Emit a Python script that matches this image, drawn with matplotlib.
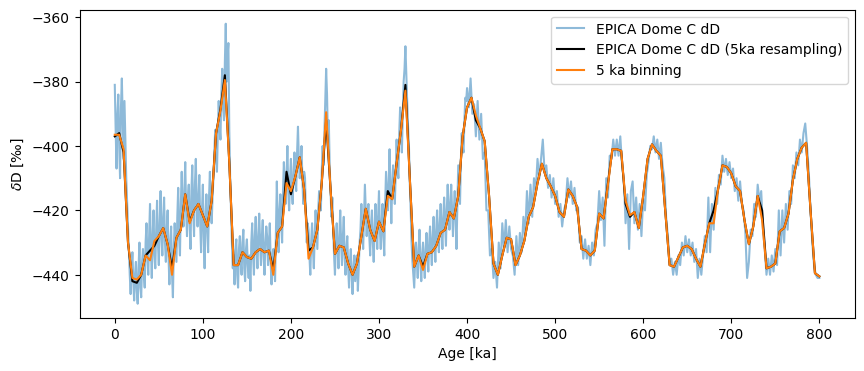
import numpy as np
import matplotlib
matplotlib.use("Agg")
import matplotlib.pyplot as plt

# Raw EPICA Dome C dD (2 ka spacing)
raw_age = np.arange(0, 801, 2)
raw_dD = [
    -381, -407, -384, -410, -379, -404, -398, -418, -432, -446,
    -433, -448, -436, -449, -430, -447, -432, -444, -424, -440,
    -418, -441, -420, -438, -417, -437, -414, -434, -416, -436,
    -420, -443, -425, -447, -424, -436, -413, -434, -408, -425,
    -405, -428, -412, -432, -406, -428, -404, -425, -409, -433,
    -412, -438, -415, -433, -408, -424, -410, -395, -408, -386,
    -398, -376, -392, -362, -372, -395, -420, -438, -443, -429,
    -444, -428, -440, -426, -442, -429, -441, -445, -424, -440,
    -422, -438, -421, -437, -423, -440, -425, -437, -424, -443,
    -432, -442, -411, -433, -415, -430, -405, -418, -400, -420,
    -404, -418, -402, -414, -394, -410, -400, -418, -410, -430,
    -426, -440, -424, -438, -420, -432, -414, -420, -400, -396,
    -376, -398, -406, -422, -426, -440, -424, -438, -420, -437,
    -422, -440, -428, -444, -432, -446, -434, -438, -445, -430,
    -418, -432, -412, -428, -418, -434, -420, -436, -418, -432,
    -414, -432, -418, -434, -408, -420, -401, -424, -406, -418,
    -398, -410, -388, -402, -380, -369, -386, -400, -420, -436,
    -444, -430, -441, -426, -442, -430, -441, -427, -439, -425,
    -437, -422, -436, -420, -433, -418, -432, -416, -431, -412,
    -426, -412, -428, -414, -432, -406, -418, -396, -402, -385,
    -382, -388, -379, -390, -387, -397, -386, -398, -390, -404,
    -402, -420, -420, -434, -432, -441, -436, -444, -430, -438,
    -424, -432, -423, -433, -425, -432, -434, -440, -428, -437,
    -427, -433, -422, -428, -414, -424, -412, -422, -410, -414,
    -404, -410, -404, -398, -408, -406, -413, -409, -416, -410,
    -418, -414, -422, -418, -425, -420, -418, -410, -416, -411,
    -418, -413, -420, -419, -430, -428, -435, -429, -435, -431,
    -437, -430, -434, -426, -424, -414, -423, -416, -431, -410,
    -416, -403, -404, -398, -403, -398, -403, -397, -406, -410,
    -424, -415, -432, -414, -411, -424, -416, -426, -418, -428,
    -416, -420, -409, -405, -400, -401, -397, -402, -398, -404,
    -399, -406, -410, -422, -428, -436, -435, -440, -436, -440,
    -434, -437, -430, -434, -428, -433, -429, -434, -430, -436,
    -432, -441, -435, -440, -434, -428, -433, -416, -433, -418,
    -426, -413, -418, -409, -412, -403, -408, -404, -409, -405,
    -410, -407, -414, -410, -417, -411, -418, -420, -427, -441,
    -436, -426, -428, -418, -422, -412, -417, -414, -426, -432,
    -440, -435, -440, -434, -439, -432, -437, -420, -434, -420,
    -430, -418, -426, -414, -418, -406, -410, -402, -406, -398,
    -402, -396, -393, -400, -408, -420, -430, -437, -440, -441,
    -441,
]

# Extra raw samples at odd ages 1..399 ka (denser part of the record)
raw_age_odd = np.arange(1, 400, 2)
raw_dD_odd = [
    -395, -390, -400, -388, -392, -386, -410, -425, -440, -438,
    -442, -440, -445, -438, -444, -436, -440, -430, -434, -428,
    -432, -428, -434, -426, -430, -424, -428, -422, -430, -426,
    -434, -430, -440, -432, -430, -422, -428, -418, -420, -414,
    -420, -416, -424, -414, -420, -412, -418, -416, -424, -420,
    -428, -422, -426, -416, -420, -416, -402, -404, -396, -394,
    -384, -388, -374, -380, -368, -410, -430, -434, -432, -440,
    -432, -436, -430, -438, -432, -437, -434, -430, -434, -428,
    -432, -428, -430, -428, -434, -430, -428, -432, -436, -434,
    -438, -426, -424, -420, -424, -414, -412, -410, -414, -410,
    -414, -408, -410, -402, -404, -406, -410, -408, -422, -424,
    -434, -430, -432, -428, -426, -420, -418, -408, -406, -386,
    -384, -392, -414, -416, -434, -430, -432, -428, -430, -428,
    -434, -432, -438, -436, -440, -438, -442, -434, -438, -426,
    -426, -422, -420, -422, -428, -424, -430, -426, -424, -422,
    -426, -424, -428, -418, -414, -412, -414, -412, -410, -408,
    -406, -396, -396, -390, -376, -378, -394, -412, -430, -440,
    -436, -436, -432, -436, -434, -436, -432, -434, -430, -432,
    -428, -430, -426, -428, -424, -426, -422, -424, -420, -420,
    -418, -420, -420, -422, -418, -412, -404, -400, -392, -386,
]

# 5 ka resampling
res_age = np.arange(0, 801, 5)
res_dD = [
    -397, -396, -402, -430, -442, -442.5, -440, -434, -432.5, -431,
    -428, -425.5, -430.5, -438, -428.5, -426, -415, -423.5, -420, -418,
    -421.5, -425, -417, -396, -388.5, -378, -405, -437, -437, -433,
    -434.5, -435, -433, -432, -433, -432.5, -438.5, -427, -425, -408,
    -415, -409.5, -403.5, -413.5, -432.5, -431.5, -426, -411.5, -392, -413.5,
    -433.5, -431, -431.5, -436.5, -440, -436.5, -428, -419.5, -426, -429.5,
    -423.5, -426.5, -414, -416.5, -405.5, -395, -381, -410, -437.5, -434,
    -437.5, -433.5, -433, -431, -427, -426, -420.5, -422.5, -415.5, -397,
    -388, -385, -392, -394.5, -398.5, -415.5, -436.5, -440, -434, -428.5,
    -429, -437, -434, -429.5, -422, -419, -411.5, -405.5, -410, -412.5,
    -415.5, -420.5, -422, -413.5, -415.5, -419, -432, -432.5, -434, -432.5,
    -421, -422.5, -411.5, -401, -401, -401.5, -418, -422, -420.5, -425.5,
    -415.5, -404, -399.5, -401.5, -403, -420, -437, -437.5, -434.5, -431.5,
    -431, -432, -435, -437.5, -430.5, -424, -420, -413.5, -406, -406.5,
    -408.5, -412.5, -414, -423, -430.5, -425, -415.5, -420, -438, -437.5,
    -436.5, -426.5, -425.5, -421, -410.5, -404, -400.5, -399, -420, -439.5,
    -440.5,
]

# 5 ka binning
bin_age = np.arange(0, 801, 5)
bin_dD = [
    -396.5, -396.5, -401, -430, -441, -441.5, -440, -434, -435.5, -429.5,
    -428, -425.5, -430.5, -440, -428.5, -426, -415, -424, -420, -418,
    -421.5, -425, -417, -396, -389, -379.5, -405, -437, -437, -433,
    -434.5, -435, -433, -432, -433, -432.5, -440, -427, -425, -411.5,
    -414, -409.5, -403.5, -413.5, -435, -431.5, -426, -411.5, -389.5, -413.5,
    -433.5, -431, -431.5, -436.5, -440, -436.5, -428, -419.5, -426, -429.5,
    -423.5, -426.5, -415.5, -416.5, -405.5, -395, -382.8, -410, -437.5, -434,
    -438.5, -433.5, -433, -431, -427, -426, -420.5, -422.5, -415.5, -397,
    -388, -385, -390.5, -394.5, -398.5, -415.5, -436.5, -440, -434, -428.5,
    -429, -437, -434, -429.5, -422, -419, -411.5, -405.5, -410, -412.5,
    -415.5, -420.5, -422, -413.5, -415.5, -419, -432, -432.5, -434, -432.5,
    -421, -422.5, -412, -401, -401, -401.5, -417, -421.5, -420.5, -425.5,
    -415.5, -404, -399.5, -401.5, -403, -420, -437, -437.5, -434.5, -431.5,
    -431, -432, -435, -437.5, -430.5, -424, -424, -413.5, -406, -406.5,
    -408.5, -412.5, -414, -423, -430.5, -425, -415.5, -423, -438, -437.5,
    -436.5, -426.5, -425.5, -421, -410.5, -404, -400.5, -399, -420, -439.5,
    -440.5,
]

# merge the raw samples into one age-ordered record
all_age = np.concatenate([raw_age, raw_age_odd])
all_dD = np.concatenate([np.asarray(raw_dD, float), np.asarray(raw_dD_odd, float)])
order = np.argsort(all_age, kind="stable")

fig, ax = plt.subplots(figsize=(10, 4), dpi=100)
ax.plot(all_age[order], all_dD[order], color="C0", alpha=0.5, label="EPICA Dome C dD")
ax.plot(res_age, res_dD, color="k", label="EPICA Dome C dD (5ka resampling)")
ax.plot(bin_age, bin_dD, color="C1", label="5 ka binning")
ax.set_xlabel("Age [ka]")
ax.set_ylabel(r"$\delta$D [‰]")
ax.legend(loc="upper right")
fig.savefig("out.png", dpi=100, bbox_inches="tight")
